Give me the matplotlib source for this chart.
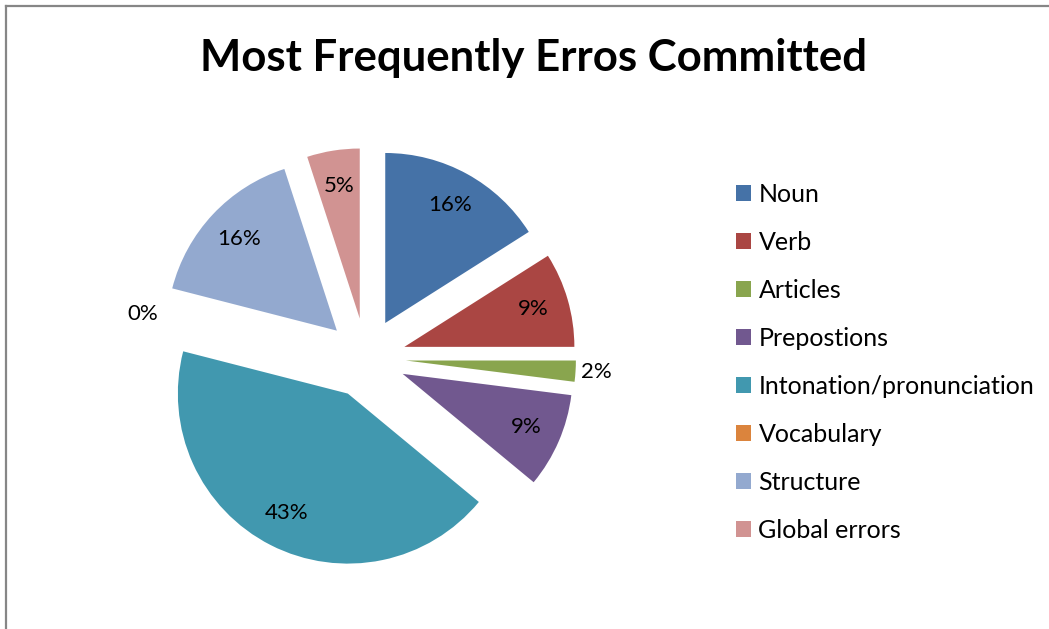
import matplotlib
matplotlib.use("Agg")
import matplotlib.pyplot as plt
from matplotlib.lines import Line2D

# error categories and their share (%)
categories = ['Noun', 'Verb', 'Articles', 'Prepostions', 'Intonation/pronunciation',
              'Vocabulary', 'Structure', 'Global errors']
shares = [16, 9, 2, 9, 43, 0, 16, 5]
colors = ['#4572A7', '#AA4643', '#89A54E', '#71588F', '#4198AF',
          '#DB843D', '#93A9CF', '#D19392']

plt.rcParams['font.family'] = ['Lato', 'DejaVu Sans']

W, H = 1049, 629
fig = plt.figure(figsize=(W / 100, H / 100), dpi=100)

# chart frame (only top and left edges are visible)
fig.add_artist(Line2D([6 / W, 6 / W], [0, 1 - 6 / H], color='#868686', lw=1.6))
fig.add_artist(Line2D([6 / W, 1], [1 - 6 / H, 1 - 6 / H], color='#868686', lw=1.6))

fig.text(533 / W, 1 - 58 / H, 'Most Frequently Erros Committed',
         ha='center', va='center', fontsize=31.5, fontweight='bold')

# pie axes: centre at (366, 358) px, radius 170 px
cx, cy, r = 366, 358, 170
half = 1.5 * r
ax = fig.add_axes([(cx - half) / W, (H - cy - half) / H, 2 * half / W, 2 * half / H])

wedges, texts, autotexts = ax.pie(
    shares, colors=colors, startangle=90, counterclock=False,
    explode=[0.235] * len(shares), autopct='%d%%', pctdistance=0.79,
    textprops={'fontsize': 16, 'color': 'black'}, radius=1)
ax.set_xlim(-1.5, 1.5)
ax.set_ylim(-1.5, 1.5)
ax.axis('off')

# tiny slices get their label outside the wedge
for w, t, v in zip(wedges, autotexts, shares):
    if v < 3:
        x, y = t.get_position()
        cxw, cyw = w.center
        dx, dy = x - cxw, y - cyw
        t.set_position((cxw + dx / 0.79 * 1.12, cyw + dy / 0.79 * 1.12 - (0.08 if v == 0 else 0)))

fig.legend(wedges, categories, loc='upper left',
           bbox_to_anchor=(726 / W, 1 - 173 / H), frameon=False,
           fontsize=18, handlelength=0.6, handleheight=0.6,
           handletextpad=0.3, labelspacing=1.0, borderaxespad=0)

fig.savefig('out.png', dpi=100)
